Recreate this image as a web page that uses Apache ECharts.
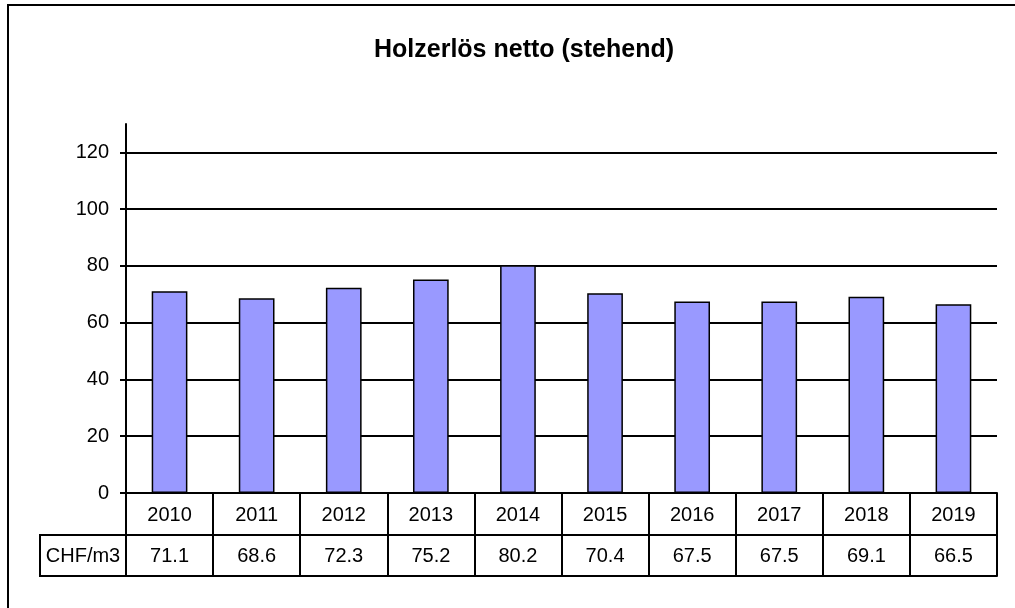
<!DOCTYPE html>
<html>
<head>
<meta charset="utf-8">
<script src="https://cdn.jsdelivr.net/npm/echarts@6/dist/echarts.min.js"></script>
<style>
  html, body { margin: 0; padding: 0; background: #fff; }
  #main { width: 1015px; height: 608px; }
</style>
</head>
<body>
<div id="main"></div>
<script>
// data
var years = ["2010", "2011", "2012", "2013", "2014", "2015", "2016", "2017", "2018", "2019"];
var chfPerM3 = [71.1, 68.6, 72.3, 75.2, 80.2, 70.4, 67.5, 67.5, 69.1, 66.5];
var yTicks = [0, 20, 40, 60, 80, 100, 120];
var rowLabel = "CHF/m3";

var font = "Liberation Sans, Arial, sans-serif";
var black = "#000";

var myChart = echarts.init(document.getElementById("main"));

// split line colours: last one (at max 130) hidden if it shows up
var splitColors = yTicks.map(function () { return black; });
splitColors.push("rgba(0,0,0,0)");

myChart.setOption({
  animation: false,
  title: {
    text: "Holzerlös netto (stehend)",
    left: 369,
    top: 33,
    textStyle: { fontFamily: font, fontSize: 25, fontWeight: "bold", color: black }
  },
  grid: { left: 126, right: 18, top: 124, bottom: 115 },
  xAxis: [
    {
      // year row of the data table
      type: "category",
      data: years,
      position: "bottom",
      axisLine: { show: true, lineStyle: { color: black, width: 2 } },
      axisTick: { show: true, alignWithLabel: false, length: 42, lineStyle: { color: black, width: 2 } },
      axisLabel: { fontFamily: font, fontSize: 20, color: black, margin: 12 },
      splitLine: { show: false }
    },
    {
      // value row of the data table
      type: "category",
      data: chfPerM3.map(function (v) { return v.toFixed(1); }),
      position: "bottom",
      offset: 42,
      axisLine: { show: true, lineStyle: { color: black, width: 2 } },
      axisTick: { show: true, alignWithLabel: false, length: 41, lineStyle: { color: black, width: 2 } },
      axisLabel: { fontFamily: font, fontSize: 20, color: black, margin: 11 },
      splitLine: { show: false }
    },
    {
      // bottom border of the table
      type: "category",
      data: years,
      position: "bottom",
      offset: 83,
      axisLine: { show: true, lineStyle: { color: black, width: 2 } },
      axisTick: { show: false },
      axisLabel: { show: false },
      splitLine: { show: false }
    }
  ],
  yAxis: {
    type: "value",
    min: 0,
    max: 130,
    interval: 20,
    axisLine: { show: true, lineStyle: { color: black, width: 2 } },
    axisTick: { show: true, length: 6, customValues: yTicks, lineStyle: { color: black, width: 2 } },
    axisLabel: {
      fontFamily: font, fontSize: 20, color: black, margin: 17,
      customValues: yTicks
    },
    splitLine: { show: true, lineStyle: { color: splitColors, width: 2 } }
  },
  graphic: [
    {
      // outer chart frame
      type: "rect",
      shape: { x: 8, y: 5, width: 1100, height: 700 },
      style: { fill: "none", stroke: black, lineWidth: 2 },
      silent: true,
      z: 0
    },
    {
      // row header cell of the table
      type: "rect",
      shape: { x: 40, y: 535, width: 86, height: 41 },
      style: { fill: "none", stroke: black, lineWidth: 2 },
      silent: true
    },
    {
      type: "text",
      x: 83,
      y: 556,
      style: {
        text: rowLabel, fontFamily: font, fontSize: 20, fill: black,
        align: "center", verticalAlign: "middle"
      },
      silent: true
    }
  ],
  series: [
    {
      name: rowLabel,
      type: "bar",
      xAxisIndex: 0,
      data: chfPerM3,
      barWidth: "41%",
      itemStyle: { color: "#9999FF", borderColor: black, borderWidth: 1.5 }
    }
  ]
});
</script>
</body>
</html>
